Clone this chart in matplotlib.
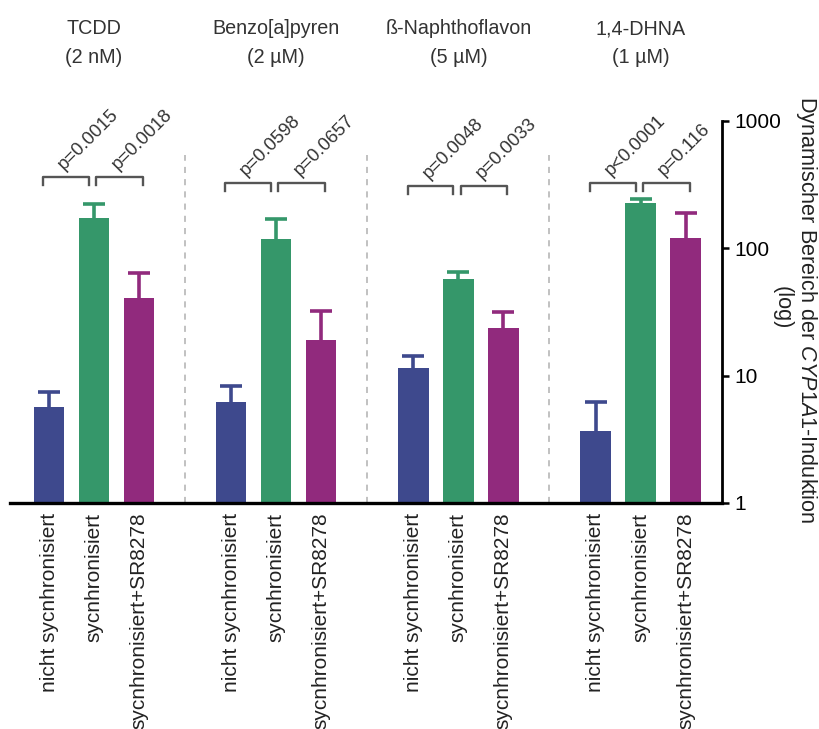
import numpy as np
import matplotlib
matplotlib.use("Agg")
import matplotlib.pyplot as plt
from matplotlib.ticker import FixedLocator, NullLocator, FuncFormatter

plt.rcParams['font.family'] = ['Liberation Sans', 'DejaVu Sans']
plt.rcParams['mathtext.fontset'] = 'custom'
plt.rcParams['mathtext.rm'] = 'Liberation Sans'
plt.rcParams['mathtext.it'] = 'Liberation Sans:italic'

# ---- data ---------------------------------------------------------------
treatments = ["TCDD\n(2 nM)", "Benzo[a]pyren\n(2 µM)",
              "ß-Naphthoflavon\n(5 µM)", "1,4-DHNA\n(1 µM)"]
conditions = ["nicht sycnhronisiert", "sycnhronisiert", "sycnhronisiert+SR8278"]

nicht_sync = [5.7, 6.2, 11.5, 3.7]
sync = [172, 118, 57, 225]
sync_sr = [40.5, 19.0, 23.6, 120]

nicht_sync_err = [1.7, 2.1, 2.7, 2.5]
sync_err = [49, 51, 8, 17]
sync_sr_err = [23, 13, 8, 71]

p_left = ["p=0.0015", "p=0.0598", "p=0.0048", "p<0.0001"]
p_right = ["p=0.0018", "p=0.0657", "p=0.0033", "p=0.116"]

y_ticks = [1, 10, 100, 1000]

# ---- styling --------------------------------------------------------------
colors = ["#3e498d", "#35976a", "#912a7d"]
bracket_level = [360, 324, 306, 324]
group_gap = 4.05
bar_w = 0.68

W, H = 820, 729
PX_PER_DECADE = 382 / 3


def y_from_px(py):
    """Log-axis value that sits at pixel row py (row 503 is the baseline)."""
    return 10 ** ((503 - py) / PX_PER_DECADE)


fig = plt.figure(figsize=(W / 100, H / 100), dpi=100)
ax = fig.add_axes([10 / W, (H - 503) / H, (722 - 10) / W, (503 - 121) / H])
ax.set_yscale('log')
ax.set_ylim(1, 1000)
ax.set_xlim(-1.867, 13.96)

series = [nicht_sync, sync, sync_sr]
errors = [nicht_sync_err, sync_err, sync_sr_err]
centers = np.arange(len(treatments)) * group_gap

for i, (vals, errs, col) in enumerate(zip(series, errors, colors)):
    x = centers + (i - 1)
    vals = np.asarray(vals, dtype=float)
    tops = vals + np.asarray(errs, dtype=float)
    ax.bar(x, vals, width=bar_w, color=col, zorder=2)
    # upper-only error bars
    ax.vlines(x, vals, tops, color=col, lw=2.6, zorder=3)
    ax.plot(x, tops, ls='none', marker='_', ms=16, mew=2.6, color=col,
            zorder=3)

# dashed separators between treatments
for g in range(len(treatments) - 1):
    xs = (g + 0.5) * group_gap
    ax.plot([xs, xs], [1, y_from_px(155)], ls=(0, (4, 4)),
            color="#b0b0b0", lw=1.1, clip_on=False, zorder=1)

# significance brackets and p-values
leg = 10 ** (8 / PX_PER_DECADE)
for g, c in enumerate(centers):
    y = bracket_level[g]
    spans = [(c - 1 - 0.13, c - 0.11), (c + 0.05, c + 1 + 0.09)]
    for (x0, x1), txt in zip(spans, [p_left[g], p_right[g]]):
        ax.plot([x0, x0, x1, x1], [y / leg, y, y, y / leg], color="#555555",
                lw=1.7, clip_on=False, zorder=3)
        ax.text((x0 + x1) / 2 + 0.02, y * 1.08, txt, rotation=45,
                rotation_mode='anchor', ha='left', va='bottom',
                fontsize=13.3, color="#333333", clip_on=False)

# treatment headers
for c, t in zip(centers, treatments):
    ax.text(c, y_from_px(43), t, ha='center', va='center',
            fontsize=14.2, color="#333333", linespacing=1.62,
            multialignment='center')

# axes styling
for s in ['left', 'top']:
    ax.spines[s].set_visible(False)
ax.spines['bottom'].set_linewidth(2.4)
ax.spines['right'].set_linewidth(2.0)
ax.yaxis.tick_right()
ax.yaxis.set_major_locator(FixedLocator(y_ticks))
ax.yaxis.set_minor_locator(NullLocator())
ax.yaxis.set_major_formatter(FuncFormatter(lambda v, p: f"{v:g}"))
ax.tick_params(axis='y', direction='out', length=5, width=1.8,
               labelsize=15, pad=4, colors='black')

xt = np.concatenate([centers + (i - 1) for i in range(3)])
xl = [conditions[i] for i in range(3) for _ in centers]
ax.set_xticks(xt)
ax.set_xticklabels(xl, rotation=90, va='top', ha='center',
                   fontsize=15, color="#222222")
ax.tick_params(axis='x', length=0, pad=7)

fig.text(807 / W, 1 - 310 / H,
         r"Dynamischer Bereich der $\mathit{CYP1A1}$-Induktion",
         rotation=-90, ha='center', va='center', fontsize=15.6,
         color="#222222")
fig.text(782 / W, 1 - 308 / H, "(log)", rotation=-90, ha='center',
         va='center', fontsize=15.6, color="#222222")

fig.savefig("out.png", dpi=100, facecolor='white')
